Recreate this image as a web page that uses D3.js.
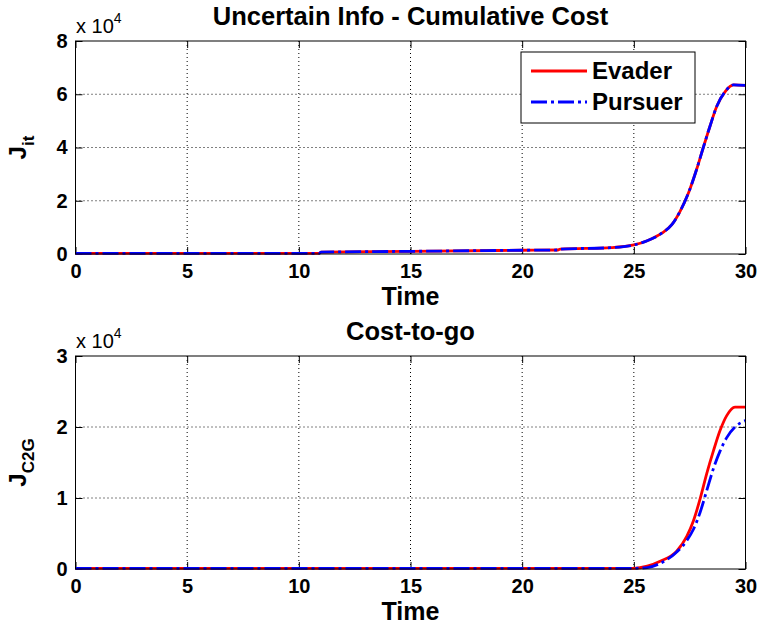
<html>
<head>
<script src="https://d3js.org/d3.v7.min.js"></script>
<style>
body { margin: 0; background: #fff; }
text { font-family: 'Liberation Sans', Arial, sans-serif; font-weight: bold; fill: #000; }
</style>
</head>
<body>
<svg id="chart"></svg>
<script>

var width = 757;
var height = 628;

// data (values in units of 1e4)
var timeTicks = [0, 5, 10, 15, 20, 25, 30];
var topTicks = [0, 2, 4, 6, 8];
var botTicks = [0, 1, 2, 3];
var seriesNames = ["Evader", "Pursuer"];

var topTime = [0, 10.9, 11.0, 15, 20, 21.6, 21.7, 24, 25, 25.6, 26.25, 26.7, 27.07, 27.45, 27.82, 28.11, 28.41, 28.71, 29.09, 29.46, 30];
var topEvader = [0.02, 0.02, 0.07, 0.1, 0.14, 0.15, 0.18, 0.24, 0.34, 0.5, 0.78, 1.1, 1.6, 2.3, 3.2, 4.0, 4.8, 5.54, 6.1, 6.35, 6.33];
var topPursuer = [0.02, 0.02, 0.07, 0.1, 0.14, 0.15, 0.18, 0.24, 0.34, 0.5, 0.78, 1.1, 1.6, 2.3, 3.2, 4.0, 4.8, 5.54, 6.1, 6.35, 6.33];

var botTime = [0, 25, 25.6, 26.18, 26.92, 27.37, 27.67, 27.97, 28.27, 28.57, 28.86, 29.16, 29.53, 30];
var botEvader = [0.01, 0.01, 0.04, 0.11, 0.25, 0.46, 0.68, 0.99, 1.35, 1.67, 1.95, 2.16, 2.28, 2.28];
var botPursuer = [0.01, 0.01, 0.02, 0.08, 0.24, 0.4, 0.56, 0.8, 1.11, 1.42, 1.66, 1.85, 2.0, 2.09];

var svg = d3.select("#chart").attr("width", width).attr("height", height);
svg.append("rect").attr("width", width).attr("height", height).style("fill", "#fff");

var xScale = d3.scaleLinear().domain([0, 30]).range([75.5, 745.5]);

function drawPanel(opts) {
	var yScale = d3.scaleLinear().domain(opts.domain).range([opts.bottom, opts.top]);
	var g = svg.append("g");
	var x0 = xScale.range()[0], x1 = xScale.range()[1];

	// dotted grid at interior ticks
	g.selectAll("line.gx").data(timeTicks.slice(1, -1)).enter().append("line")
	.attr("x1", function(d) { return xScale(d); }).attr("x2", function(d) { return xScale(d); })
	.attr("y1", opts.top).attr("y2", opts.bottom)
	.style("stroke", "#000").style("stroke-width", 1).style("stroke-dasharray", "1,3");
	g.selectAll("line.gy").data(opts.ticks.slice(1, -1)).enter().append("line")
	.attr("y1", function(d) { return yScale(d); }).attr("y2", function(d) { return yScale(d); })
	.attr("x1", x0).attr("x2", x1)
	.style("stroke", "#000").style("stroke-width", 1).style("stroke-dasharray", "1,3");

	// axes with inward ticks
	var ax = [
		g.append("g").attr("transform", "translate(0," + opts.bottom + ")")
			.call(d3.axisBottom(xScale).tickValues(timeTicks).tickSizeInner(-7).tickSizeOuter(0).tickPadding(10).tickFormat(d3.format("d"))),
		g.append("g").attr("transform", "translate(0," + opts.top + ")")
			.call(d3.axisTop(xScale).tickValues(timeTicks).tickSizeInner(-7).tickSizeOuter(0).tickFormat("")),
		g.append("g").attr("transform", "translate(" + x0 + ",0)")
			.call(d3.axisLeft(yScale).tickValues(opts.ticks).tickSizeInner(-7).tickSizeOuter(0).tickPadding(8).tickFormat(d3.format("d"))),
		g.append("g").attr("transform", "translate(" + x1 + ",0)")
			.call(d3.axisRight(yScale).tickValues(opts.ticks).tickSizeInner(-7).tickSizeOuter(0).tickFormat(""))
	];
	ax.forEach(function(a) {
		a.select(".domain").remove();
		a.selectAll("line").style("stroke", "#000");
		a.selectAll("text").style("font-size", "20px").style("font-family", "'Liberation Sans', Arial, sans-serif").style("font-weight", "bold");
	});

	// curves: evader first, pursuer on top
	var lineGen = d3.line()
	.x(function(d) { return xScale(d[0]); })
	.y(function(d) { return yScale(d[1]); })
	.curve(d3.curveMonotoneX);

	g.append("path").datum(d3.zip(opts.time, opts.evader)).attr("d", lineGen)
	.style("fill", "none").style("stroke", "#ff0000").style("stroke-width", 2.8);
	g.append("path").datum(d3.zip(opts.time, opts.pursuer)).attr("d", lineGen)
	.style("fill", "none").style("stroke", "#0000ff").style("stroke-width", 2.8)
	.style("stroke-dasharray", "16,4,3,4");

	// box
	g.append("rect").attr("x", x0).attr("y", opts.top).attr("width", x1 - x0).attr("height", opts.bottom - opts.top)
	.style("fill", "none").style("stroke", "#000").style("stroke-width", 1);

	// exponent
	var ex = g.append("text").attr("x", 76).attr("y", opts.top - 8).style("font-size", "20px").style("font-weight", "normal");
	ex.append("tspan").text("x 10");
	ex.append("tspan").attr("dy", -10).style("font-size", "14px").text("4");

	// title
	g.append("text").attr("x", (x0 + x1) / 2).attr("y", opts.titleY).attr("text-anchor", "middle")
	.style("font-size", "25.5px").text(opts.title);

	// x label
	g.append("text").attr("x", (x0 + x1) / 2).attr("y", opts.bottom + 51).attr("text-anchor", "middle")
	.style("font-size", "25px").text("Time");

	// y label
	var yl = g.append("text").attr("transform", "translate(26," + ((opts.top + opts.bottom) / 2) + ") rotate(-90)")
	.attr("text-anchor", "middle");
	yl.append("tspan").style("font-size", "24px").text("J");
	yl.append("tspan").attr("dy", 8).style("font-size", "17px").text(opts.sub);

	return g;
}

var topPanel = drawPanel({
	top: 41, bottom: 254, domain: [0, 8], ticks: topTicks,
	time: topTime, evader: topEvader, pursuer: topPursuer,
	title: "Uncertain Info - Cumulative Cost", titleY: 25, sub: "it"
});

drawPanel({
	top: 356, bottom: 569, domain: [0, 3], ticks: botTicks,
	time: botTime, evader: botEvader, pursuer: botPursuer,
	title: "Cost-to-go", titleY: 340, sub: "C2G"
});

// legend
var legend = svg.append("g");
legend.append("rect").attr("x", 521).attr("y", 52).attr("width", 174).attr("height", 71)
.style("fill", "#fff").style("stroke", "#000").style("stroke-width", 1);
var legRows = legend.selectAll("g.row").data(seriesNames).enter().append("g")
.attr("transform", function(d, i) { return "translate(0," + (71 + i * 31) + ")"; });
legRows.append("line").attr("x1", 531).attr("x2", 587).attr("y1", 0).attr("y2", 0)
.style("stroke", function(d, i) { return i === 0 ? "#ff0000" : "#0000ff"; })
.style("stroke-width", 2.8)
.style("stroke-dasharray", function(d, i) { return i === 0 ? null : "16,4,3,4"; });
legRows.append("text").attr("x", 592).attr("y", 8).style("font-size", "24px").text(function(d) { return d; });

</script>
</body>
</html>
